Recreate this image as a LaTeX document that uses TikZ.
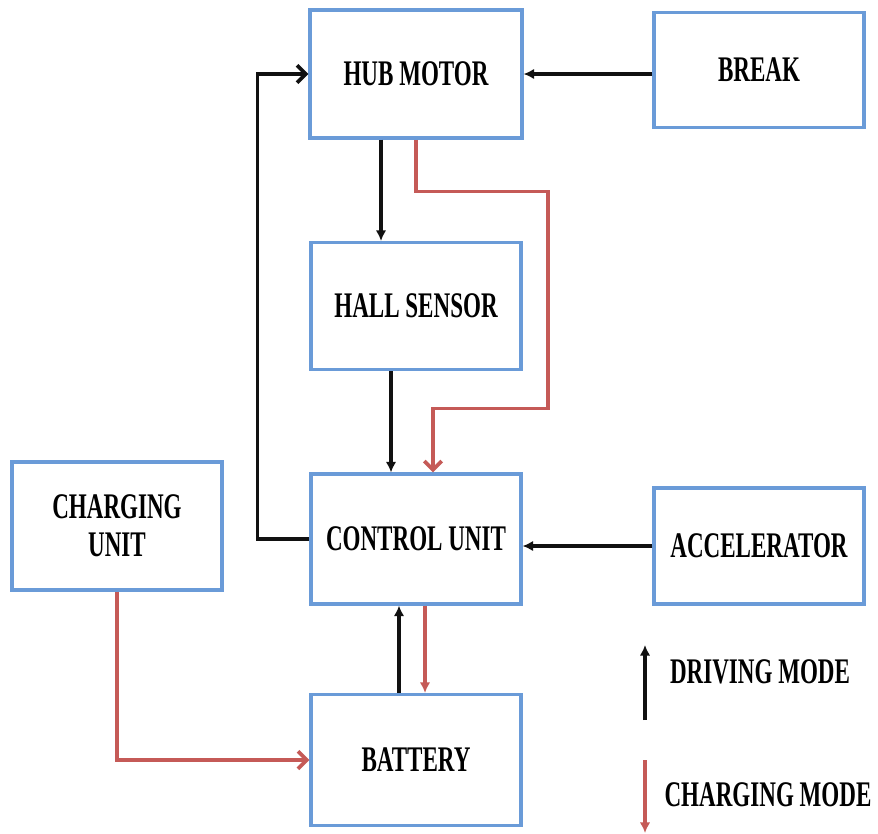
\documentclass[tikz,border=0pt]{standalone}
\usepackage{fontspec}
\usepackage{tikz}
\usetikzlibrary{arrows.meta, positioning, calc}
\newfontfamily\boxfont{Liberation Serif}[FakeStretch=0.64]
\definecolor{frame}{HTML}{6A9BD8}
\definecolor{charge}{HTML}{C55A57}
\definecolor{drive}{HTML}{111111}

\begin{document}
\begin{tikzpicture}[x=0.02cm, y=-0.02cm,
  block/.style={draw=frame, line width=1.8pt, fill=white, minimum width=4.2cm, minimum height=2.56cm,
    align=center, font=\boxfont\bfseries\fontsize{20.5}{21.6}\selectfont, text=black},
  legend/.style={font=\boxfont\bfseries\fontsize{20.5}{21.6}\selectfont, text=black},
  drv/.style={drive, line width=2.1pt, -{Latex[length=6pt,width=6pt]}},
  drvbarb/.style={drive, line width=2.1pt, -{Straight Barb[length=5pt,width=10pt]}},
  chg/.style={charge, line width=2.1pt, -{Latex[length=6pt,width=6pt]}},
  chgbarb/.style={charge, line width=2.1pt, -{Straight Barb[length=5pt,width=10pt]}}]
\useasboundingbox (0,0) rectangle (878,833);

% Blocks
\node[block, minimum width=4.24cm] (hub) at (416,74) {HUB MOTOR};
\node[block, minimum height=2.3cm] (brk) at (759,70) {BREAK};
\node[block, minimum height=2.54cm] (hall) at (416,306) {HALL SENSOR};
\node[block, minimum height=2.6cm] (ctrl) at (416,539) {CONTROL UNIT};
\node[block, minimum height=2.32cm] (accel) at (759,546) {ACCELERATOR};
\node[block] (chgunit) at (117,526) {CHARGING\\UNIT};
\node[block, minimum height=2.62cm] (batt) at (416,760) {BATTERY};

% Driving mode
\draw[drvbarb] (ctrl.west) -- ++(-52,0) |- (hub.west);
\draw[drv] (brk.west |- hub.east) -- (hub.east);
\draw[drv] ([xshift=-0.7cm]hub.south) -- ([xshift=-0.7cm]hall.north);
\draw[drv] ([xshift=-0.5cm]hall.south) -- ([xshift=-0.5cm]ctrl.north);
\draw[drv] (accel.west) -- (accel.west -| ctrl.east);
\draw[drv] ([xshift=-0.34cm]batt.north) -- ([xshift=-0.34cm]ctrl.south);

% Charging mode
\draw[chgbarb] (hub.south) -- ++(0,52) -- ++(132,0) -- ++(0,217) -| ([xshift=0.34cm]ctrl.north);
\draw[chg] ([xshift=0.18cm]ctrl.south) -- ([xshift=0.18cm]batt.north);
\draw[chgbarb] (chgunit.south) |- (batt.west);

% Legend
\coordinate (dlo) at (645,720);
\coordinate (dhi) at (645,645);
\draw[drv] (dlo) -- (dhi);
\node[legend] (dlab) at (760,672) {DRIVING MODE};
\coordinate (clo) at (645,760);
\coordinate (chi) at (645,833);
\draw[chg] (clo) -- (chi);
\node[legend] (clab) at (768,795) {CHARGING MODE};
\end{tikzpicture}
\end{document}
